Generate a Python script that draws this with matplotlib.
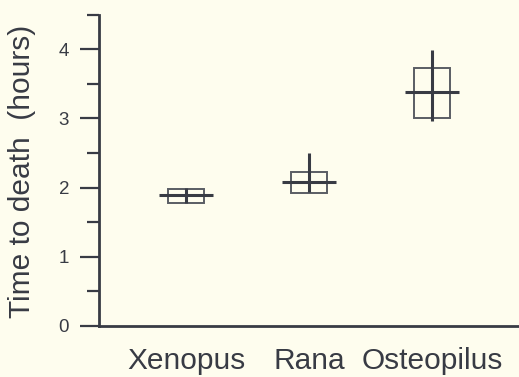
import matplotlib
matplotlib.use("Agg")
import matplotlib.pyplot as plt
import numpy as np

# Time to death per species (hours)
species = ["Xenopus", "Rana", "Osteopilus"]
medians = [1.90, 2.08, 3.38]
box_low = [1.78, 1.92, 3.01]
box_high = [1.98, 2.23, 3.73]
range_low = [1.78, 1.93, 2.97]
range_high = [2.00, 2.50, 3.99]
y_major = [0, 1, 2, 3, 4]
y_minor = [0.5, 1.5, 2.5, 3.5, 4.5]

bg = "#fefdee"
ink = "#383b44"

plt.rcParams["font.family"] = ["Liberation Sans", "DejaVu Sans"]

fig = plt.figure(figsize=(5.19, 3.77), dpi=100, facecolor=bg)
ax = fig.add_axes([99 / 519, 51 / 377, 420 / 519, 311.3 / 377])
ax.set_facecolor(bg)

x = np.arange(1, len(species) + 1)

# boxes (interquartile range)
ax.bar(x, np.array(box_high) - np.array(box_low), bottom=box_low, width=0.29,
       fill=False, edgecolor="#5a5d64", linewidth=1.4, zorder=2)
# full range lines
ax.vlines(x, range_low, range_high, color=ink, linewidth=2.2, zorder=3)
# medians
ax.hlines(medians, x - 0.22, x + 0.22, color=ink, linewidth=2.2, zorder=3)

ax.set_xlim(0.293, 3.707)
ax.set_ylim(0, 4.5)

for side in ("top", "right"):
    ax.spines[side].set_visible(False)
for side in ("left", "bottom"):
    ax.spines[side].set_color(ink)
    ax.spines[side].set_linewidth(2.0)
ax.spines["left"].set_bounds(0, 4.5)

ax.set_yticks(y_major)
ax.set_yticks(y_minor, minor=True)
ax.tick_params(axis="y", which="major", direction="out", length=13.5, width=1.6,
               color=ink, labelsize=13.5, labelcolor=ink, pad=8)
ax.tick_params(axis="y", which="minor", direction="out", length=8.5, width=1.6,
               color=ink)

ax.set_xticks(x)
ax.set_xticklabels(species)
ax.tick_params(axis="x", length=0, labelsize=21.5, labelcolor=ink, pad=15)

ax.set_ylabel("Time to death  (hours)", fontsize=21.5, color=ink, va="center")
ax.yaxis.set_label_coords(-0.183, 0.496)

fig.savefig("out.png", dpi=100, facecolor=bg)
